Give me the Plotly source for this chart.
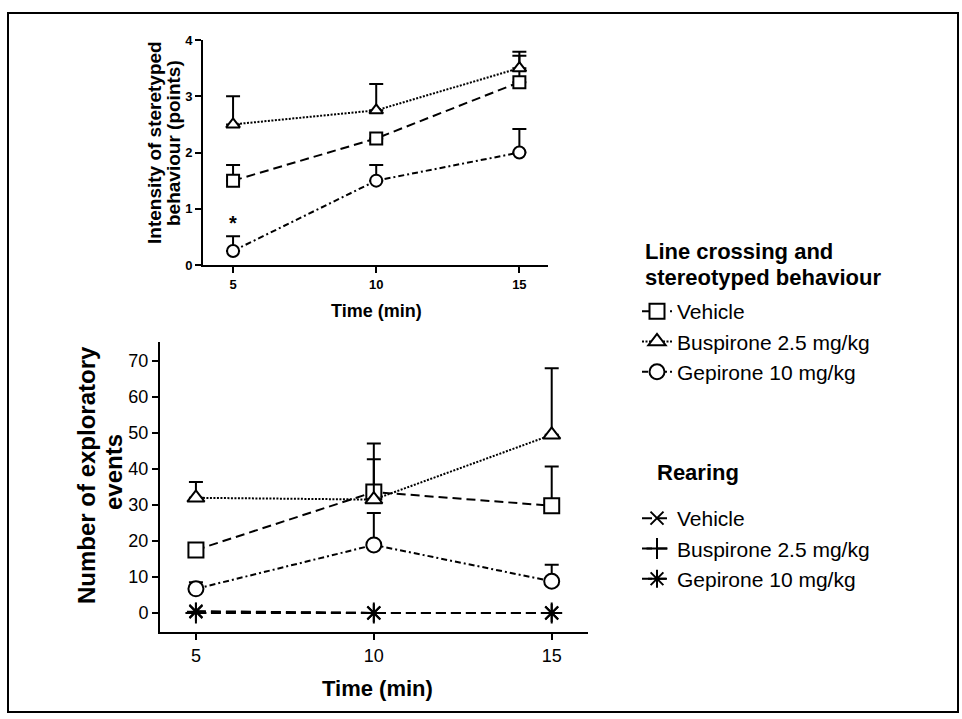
import plotly.graph_objects as go

W, H = 962, 719

time = [5, 10, 15]

# Top panel: intensity of stereotyped behaviour (points)
stereo_vehicle = [1.5, 2.25, 3.25]
stereo_vehicle_err = [0.28, 0.0, 0.47]
stereo_buspirone = [2.5, 2.75, 3.5]
stereo_buspirone_err = [0.5, 0.47, 0.29]
stereo_gepirone = [0.25, 1.5, 2.0]
stereo_gepirone_err = [0.26, 0.28, 0.42]

# Bottom panel: line crossing
cross_vehicle = [17.5, 33.6, 29.8]
cross_vehicle_err = [0.0, 13.5, 10.9]
cross_buspirone = [32.0, 31.5, 49.5]
cross_buspirone_err = [4.4, 11.2, 18.5]
cross_gepirone = [6.7, 18.9, 8.8]
cross_gepirone_err = [1.8, 8.9, 4.6]

# Bottom panel: rearing
rear_vehicle = [0.5, 0.0, 0.0]
rear_buspirone = [0.0, 0.0, 0.0]
rear_gepirone = [0.3, 0.0, 0.0]

top_yticks = [0, 1, 2, 3, 4]
bottom_yticks = [0, 10, 20, 30, 40, 50, 60, 70]

FONT = "Liberation Sans, Arial, sans-serif"
BLACK = "black"


def px_x(p):
    return p / W


def px_y(p):
    return 1 - p / H


fig = go.Figure()

dash_vehicle = "9px,5px"
dash_busp = "2px,1.5px"
dash_gep = "6px,3px,2px,3px"
dash_rear = "10px,5px"


def add_series(x, y, err, symbol, size, dash, name, xa, ya, showlegend, errw=7):
    fig.add_trace(go.Scatter(
        x=x, y=y, mode="lines+markers", name=name,
        xaxis=xa, yaxis=ya, legend="legend", showlegend=showlegend,
        line=dict(color=BLACK, width=2, dash=dash),
        marker=dict(symbol=symbol, size=size, color="white",
                    line=dict(color=BLACK, width=2)),
        error_y=dict(type="data", symmetric=False, array=err,
                     arrayminus=[0] * len(err), color=BLACK, thickness=2, width=errw),
    ))


def add_rear(y, symbol, size, dash, name):
    fig.add_trace(go.Scatter(
        x=time, y=y, mode="lines+markers", name=name,
        xaxis="x2", yaxis="y2", legend="legend2",
        line=dict(color=BLACK, width=2, dash=dash),
        marker=dict(symbol=symbol, size=size, color=BLACK,
                    line=dict(color=BLACK, width=2)),
    ))


# top panel traces
add_series(time, stereo_vehicle, stereo_vehicle_err, "square", 12, dash_vehicle,
           "Vehicle", "x", "y", False)
add_series(time, stereo_buspirone, stereo_buspirone_err, "triangle-up", 12, dash_busp,
           "Buspirone 2.5 mg/kg", "x", "y", False)
add_series(time, stereo_gepirone, stereo_gepirone_err, "circle", 12, dash_gep,
           "Gepirone 10 mg/kg", "x", "y", False)

# bottom panel: rearing
add_rear(rear_vehicle, "x-thin-open", 13, dash_rear, "Vehicle")
add_rear(rear_buspirone, "cross-thin-open", 15, dash_rear, "Buspirone 2.5 mg/kg")
add_rear(rear_gepirone, "asterisk-open", 15, dash_rear, "Gepirone 10 mg/kg")

# bottom panel: line crossing
add_series(time, cross_vehicle, cross_vehicle_err, "square", 15, dash_vehicle,
           "Vehicle", "x2", "y2", True)
add_series(time, cross_buspirone, cross_buspirone_err, "triangle-up", 15, dash_busp,
           "Buspirone 2.5 mg/kg", "x2", "y2", True)
add_series(time, cross_gepirone, cross_gepirone_err, "circle", 15, dash_gep,
           "Gepirone 10 mg/kg", "x2", "y2", True)

axis_common = dict(showgrid=False, zeroline=False, showline=True, linecolor=BLACK,
                   linewidth=2, ticks="outside", ticklen=6, tickwidth=2, tickcolor=BLACK,
                   automargin=False, fixedrange=True)

legend_common = dict(xanchor="left", yanchor="top", bgcolor="rgba(0,0,0,0)",
                     font=dict(size=21, family=FONT, color=BLACK),
                     tracegroupgap=0, itemwidth=30)

fig.update_layout(
    width=W, height=H,
    margin=dict(l=0, r=0, t=0, b=0),
    paper_bgcolor="white", plot_bgcolor="white",
    font=dict(family=FONT, color=BLACK),
    xaxis=dict(domain=[px_x(203), px_x(548)], range=[3.95, 16.0], anchor="y",
               tickvals=time, tickfont=dict(size=13, weight="bold"), **axis_common),
    yaxis=dict(domain=[px_y(265), px_y(40)], range=[0, 4], anchor="x",
               tickvals=top_yticks, tickfont=dict(size=13, weight="bold"), **axis_common),
    xaxis2=dict(domain=[px_x(160), px_x(588)], range=[3.99, 16.02], anchor="y2",
                tickvals=time, tickfont=dict(size=18), **axis_common),
    yaxis2=dict(domain=[px_y(632), px_y(342)], range=[-5.3, 75.3], anchor="x2",
                tickvals=bottom_yticks, tickfont=dict(size=18), **axis_common),
    legend=dict(x=px_x(637), y=px_y(291), **legend_common),
    legend2=dict(x=px_x(637), y=px_y(498), **legend_common),
    showlegend=True,
)


def text_ann(text, x, y, size, angle=0, xanchor="center"):
    return dict(text=text, x=px_x(x), y=px_y(y), xref="paper", yref="paper",
                textangle=angle, showarrow=False, xanchor=xanchor, yanchor="middle",
                font=dict(size=size, family=FONT, color=BLACK))


annotations = [
    text_ann("<b>Intensity of steretyped</b>", 154, 143, 19, -90),
    text_ann("<b>behaviour (points)</b>", 173, 143, 19, -90),
    text_ann("<b>Time (min)</b>", 376, 311, 18),
    text_ann("<b>Number of exploratory</b>", 86, 475, 24, -90),
    text_ann("<b>events</b>", 113, 472, 24, -90),
    text_ann("<b>Time (min)</b>", 377, 688, 22),
    text_ann("<b>Line crossing and</b>", 643, 252, 22, xanchor="left"),
    text_ann("<b>stereotyped behaviour</b>", 643, 278, 22, xanchor="left"),
    text_ann("<b>Rearing</b>", 655, 472, 22, xanchor="left"),
    dict(text="<b>*</b>", x=5, y=0.74, xref="x", yref="y", showarrow=False,
         font=dict(size=20, family=FONT, color=BLACK)),
]
fig.update_layout(annotations=annotations)

fig.add_shape(type="rect", xref="paper", yref="paper",
              x0=px_x(8), x1=px_x(958), y0=px_y(712), y1=px_y(13),
              line=dict(color=BLACK, width=2), fillcolor="rgba(0,0,0,0)", layer="below")

fig.write_html("out.html", config={"displayModeBar": False},
               post_script="document.body.style.margin='0px';document.body.style.overflow='hidden';")
